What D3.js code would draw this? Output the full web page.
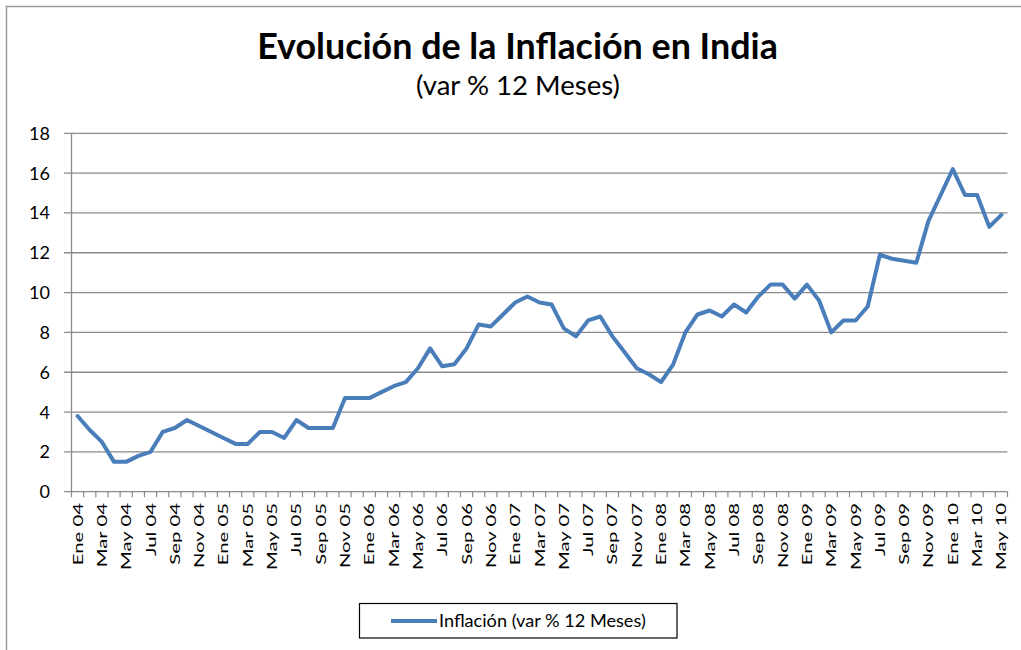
<!DOCTYPE html>
<html lang="es">
    <head>
	<title>Evolución de la Inflación en India</title>
	<meta charset="utf-8">
	<style>
	 body {
	     margin: 0;
	     background: #fff;
	     font-family: Lato, "Open Sans", sans-serif;
	 }
	</style>
	<script src="https://d3js.org/d3.v7.min.js"></script>
    </head>
    <body>
	<div id="chart"></div>
	<script>

	 //Data
	 const monthNames = ['Ene', 'Feb', 'Mar', 'Abr', 'May', 'Jun', 'Jul', 'Ago', 'Sep', 'Oct', 'Nov', 'Dic'];
	 const years = ['04', '05', '06', '07', '08', '09', '10'];
	 const lastMonthCount = 5; // 2010 runs to May

	 const inflation = [
	     3.8, 3.1, 2.5, 1.5, 1.5, 1.8, 2.0, 3.0, 3.2, 3.6, 3.3, 3.0,
	     2.7, 2.4, 2.4, 3.0, 3.0, 2.7, 3.6, 3.2, 3.2, 3.2, 4.7, 4.7,
	     4.7, 5.0, 5.3, 5.5, 6.2, 7.2, 6.3, 6.4, 7.2, 8.4, 8.3, 8.9,
	     9.5, 9.8, 9.5, 9.4, 8.2, 7.8, 8.6, 8.8, 7.8, 7.0, 6.2, 5.9,
	     5.5, 6.4, 8.0, 8.9, 9.1, 8.8, 9.4, 9.0, 9.8, 10.4, 10.4, 9.7,
	     10.4, 9.6, 8.0, 8.6, 8.6, 9.3, 11.9, 11.7, 11.6, 11.5, 13.6, 14.9,
	     16.2, 14.9, 14.9, 13.3, 13.9
	 ];

	 const yTicks = [0, 2, 4, 6, 8, 10, 12, 14, 16, 18];
	 const seriesName = 'Inflación (var % 12 Meses)';

	 const periods = [];
	 years.forEach((y, i) => {
	     const n = i === years.length - 1 ? lastMonthCount : 12;
	     for (let m = 0; m < n; m++) periods.push(monthNames[m] + ' ' + y);
	 });
	 const data = periods.map((p, i) => ({period: p, value: inflation[i]}));

	 //Display specs
	 const W = 1021, H = 650;
	 const plot = {left: 71.5, right: 1007.5, top: 133.3, bottom: 491.7};
	 const gridColor = '#8a8a8a';
	 const lineColor = '#4a7ebb';

	 const svg = d3.select('#chart').append('svg')
		       .attr('width', W)
		       .attr('height', H);

	 //Outer frame
	 svg.append('rect')
	    .attr('x', 6.5).attr('y', 6.5)
	    .attr('width', W + 20).attr('height', H + 20)
	    .attr('fill', '#fff')
	    .attr('stroke', '#9a9a9a')
	    .attr('stroke-width', 1.5);

	 //Scales
	 const x = d3.scaleBand().domain(periods).range([plot.left, plot.right]).padding(0);
	 const y = d3.scaleLinear().domain([0, 18]).range([plot.bottom, plot.top]);
	 const cx = d => x(d) + x.bandwidth() / 2;

	 //Gridlines + y ticks
	 svg.append('g').selectAll('line')
	    .data(yTicks)
	    .enter().append('line')
	    .attr('x1', plot.left - 7.5).attr('x2', plot.right)
	    .attr('y1', d => y(d)).attr('y2', d => y(d))
	    .attr('stroke', gridColor)
	    .attr('stroke-width', 1.3);

	 svg.append('g').selectAll('text')
	    .data(yTicks)
	    .enter().append('text')
	    .attr('x', 50)
	    .attr('y', d => y(d))
	    .attr('dy', '0.36em')
	    .attr('text-anchor', 'end')
	    .style('font-size', '18px')
	    .attr('fill', '#000')
	    .text(d => d);

	 //Y axis line
	 svg.append('line')
	    .attr('x1', plot.left).attr('x2', plot.left)
	    .attr('y1', plot.top).attr('y2', plot.bottom)
	    .attr('stroke', gridColor).attr('stroke-width', 1.3);

	 //X ticks at band edges
	 const edges = periods.map(p => x(p)).concat([plot.right]);
	 svg.append('g').selectAll('line')
	    .data(edges)
	    .enter().append('line')
	    .attr('x1', d => d).attr('x2', d => d)
	    .attr('y1', plot.bottom).attr('y2', plot.bottom + 5.5)
	    .attr('stroke', gridColor).attr('stroke-width', 1.2);

	 //X labels, every second month, rotated
	 svg.append('g').selectAll('text')
	    .data(periods.filter((p, i) => i % 2 === 0))
	    .enter().append('text')
	    .attr('transform', d => 'translate(' + (cx(d) + 5) + ',' + 503 + ')rotate(-90)scale(1.45,1)')
	    .attr('text-anchor', 'end')
	    .style('font-size', '14px')
	    .attr('fill', '#000')
	    .text(d => d);

	 //Line
	 const line = d3.line()
			.x(d => cx(d.period))
			.y(d => y(d.value));

	 svg.append('path')
	    .datum(data)
	    .attr('d', line)
	    .attr('fill', 'none')
	    .attr('stroke', lineColor)
	    .attr('stroke-width', 4)
	    .attr('stroke-linejoin', 'round')
	    .attr('stroke-linecap', 'round');

	 //Titles
	 function fitText(sel, width) {
	     const len = sel.node().getComputedTextLength();
	     const fs = parseFloat(sel.style('font-size'));
	     sel.style('font-size', (fs * width / len) + 'px');
	 }

	 const title = svg.append('text')
			  .attr('x', 517.5).attr('y', 59.3)
			  .attr('text-anchor', 'middle')
			  .style('font-size', '34px')
			  .style('font-weight', 'bold')
			  .attr('fill', '#000')
			  .text('Evolución de la Inflación en India');
	 fitText(title, 521);

	 const subtitle = svg.append('text')
			     .attr('x', 518).attr('y', 95)
			     .attr('text-anchor', 'middle')
			     .style('font-size', '24px')
			     .attr('fill', '#000')
			     .text('(var % 12 Meses)');
	 fitText(subtitle, 204);

	 //Legend
	 const legend = svg.append('g');
	 legend.append('rect')
	       .attr('x', 359.5).attr('y', 603.5)
	       .attr('width', 317.5).attr('height', 34.5)
	       .attr('fill', '#fff')
	       .attr('stroke', '#000')
	       .attr('stroke-width', 1.2);
	 legend.append('line')
	       .attr('x1', 391).attr('x2', 437)
	       .attr('y1', 621).attr('y2', 621)
	       .attr('stroke', lineColor)
	       .attr('stroke-width', 4);
	 const legText = legend.append('text')
			       .attr('x', 439).attr('y', 626.5)
			       .style('font-size', '16px')
			       .attr('fill', '#000')
			       .text(seriesName);
	 fitText(legText, 207);

	</script>
    </body>
</html>
